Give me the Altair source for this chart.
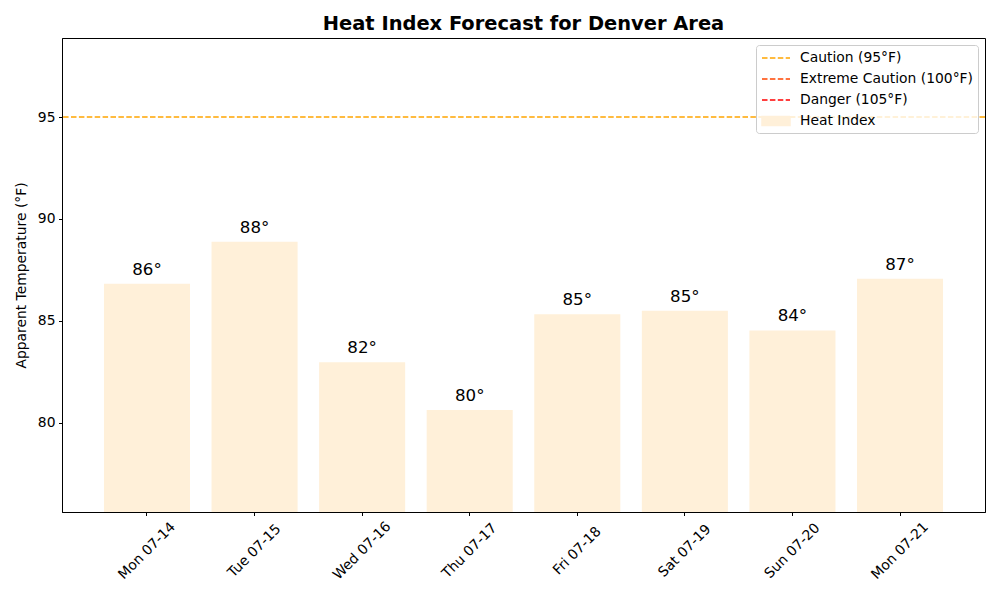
import altair as alt
import pandas as pd

days = ["Mon 07-14", "Tue 07-15", "Wed 07-16", "Thu 07-17",
        "Fri 07-18", "Sat 07-19", "Sun 07-20", "Mon 07-21"]
heat_index = [86.82, 88.88, 82.97, 80.62, 85.32, 85.50, 84.53, 87.07]
value_labels = ["86°", "88°", "82°", "80°", "85°", "85°", "84°", "87°"]

threshold_labels = ["Caution (95°F)", "Extreme Caution (100°F)", "Danger (105°F)"]
threshold_values = [95, 100, 105]
threshold_colors = ["orange", "orangered", "red"]

legend_labels = threshold_labels + ["Heat Index"]
bar_color = "#FFF0D9"
legend_colors = threshold_colors + [bar_color]
legend_shapes = ["M-1.75,0H1.75", "M-1.75,0H1.75", "M-1.75,0H1.75",
                 "M-1.75,-0.55H1.75V0.55H-1.75Z"]
legend_dashes = [[5.5, 2.4], [5.5, 2.4], [5.5, 2.4], [1, 0]]

y_domain = [75.62, 98.88]
FONT = "DejaVu Sans"
FS = 13.89

bars_df = pd.DataFrame({"day": days, "value": heat_index, "label": value_labels})
thr_df = pd.DataFrame({"label": threshold_labels, "value": threshold_values})
leg_df = pd.DataFrame({"label": legend_labels, "value": [y_domain[1] + 5] * 4})

x_enc = alt.X("day:N", sort=days, title=None,
              scale=alt.Scale(paddingInner=0.2, paddingOuter=0.39),
              axis=alt.Axis(labelAngle=-45, labelAlign="center", labelBaseline="middle",
                            labelPadding=35, tickSize=3.5, labelFontSize=FS,
                            labelFont=FONT, labelColor="black", tickColor="black",
                            domainColor="black", labelOverlap=False))
y_scale = alt.Scale(domain=y_domain, zero=False, nice=False)
y_axis = alt.Axis(values=[80, 85, 90, 95], tickSize=3.5, labelFontSize=FS, labelFont=FONT,
                  labelColor="black", tickColor="black", domainColor="black", grid=False,
                  labelPadding=3.5, title="Apparent Temperature (°F)", titleFont=FONT,
                  titleFontSize=FS, titleFontWeight="normal", titleColor="black",
                  titlePadding=9)

bars = alt.Chart(bars_df).mark_bar(clip=True, color=bar_color).encode(
    x=x_enc,
    y=alt.Y("value:Q", scale=y_scale, axis=y_axis),
)

texts = alt.Chart(bars_df).mark_text(
    fontSize=16.67, font=FONT, color="black", baseline="alphabetic", dy=-9
).encode(
    x=alt.X("day:N", sort=days),
    y=alt.Y("value:Q"),
    text="label:N",
)

rules = alt.Chart(thr_df).mark_rule(clip=True, strokeDash=[5.5, 2.4], strokeWidth=1.5).encode(
    y=alt.Y("value:Q"),
    color=alt.Color("label:N", scale=alt.Scale(domain=threshold_labels, range=threshold_colors),
                    legend=None),
)

legend_def = alt.Legend(
    title=None, orient="top-right", offset=7, padding=4, strokeColor="#cccccc",
    cornerRadius=3, fillColor="rgba(255,255,255,0.8)", labelFont=FONT, labelFontSize=FS,
    labelColor="black", symbolSize=256, symbolStrokeWidth=1.5, rowPadding=5,
    symbolOffset=7, labelOffset=15, labelLimit=400, symbolOpacity=1,
)

legend_pts = alt.Chart(leg_df).mark_point(clip=True, size=0, strokeWidth=1.5, opacity=1).encode(
    y=alt.Y("value:Q"),
    fill=alt.Fill("label:N", sort=legend_labels,
                  scale=alt.Scale(domain=legend_labels, range=legend_colors),
                  legend=legend_def),
    stroke=alt.Stroke("label:N", sort=legend_labels,
                      scale=alt.Scale(domain=legend_labels, range=legend_colors),
                      legend=legend_def),
    shape=alt.Shape("label:N", sort=legend_labels,
                    scale=alt.Scale(domain=legend_labels, range=legend_shapes),
                    legend=legend_def),
    strokeDash=alt.StrokeDash("label:N", sort=legend_labels,
                              scale=alt.Scale(domain=legend_labels, range=legend_dashes),
                              legend=legend_def),
)

chart = alt.layer(bars, rules, texts, legend_pts).properties(
    width=923, height=474,
    autosize=alt.AutoSizeParams(type="none"),
    padding={"left": 62, "top": 38, "right": 15, "bottom": 88},
    background="white",
    title=alt.Title("Heat Index Forecast for Denver Area", font=FONT, fontSize=19.44,
                    fontWeight="bold", color="black", anchor="middle", offset=4),
).configure_view(stroke="black", strokeWidth=1)

chart.save("out.html", embed_options={"renderer": "svg", "actions": False})
